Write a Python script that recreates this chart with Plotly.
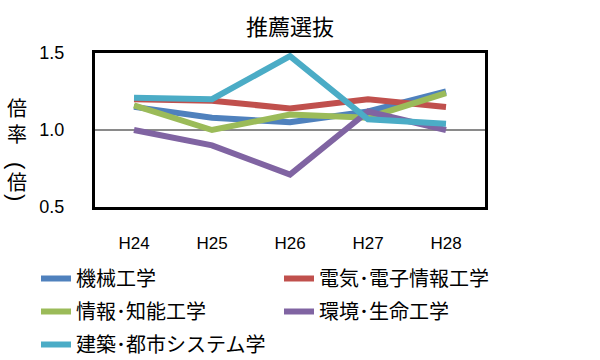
import plotly.graph_objects as go

years = ["H24", "H25", "H26", "H27", "H28"]
kikai = [1.15, 1.08, 1.05, 1.12, 1.25]
denki = [1.20, 1.19, 1.14, 1.20, 1.15]
joho = [1.16, 1.00, 1.10, 1.08, 1.24]
kankyo = [1.00, 0.90, 0.71, 1.12, 1.00]
kenchiku = [1.21, 1.20, 1.48, 1.07, 1.04]

series = [
    ("機械工学", kikai, "#4F81BD", "legend"),
    ("電気･電子情報工学", denki, "#C0504D", "legend2"),
    ("情報･知能工学", joho, "#9BBB59", "legend"),
    ("環境･生命工学", kankyo, "#8064A2", "legend2"),
    ("建築･都市システム学", kenchiku, "#4BACC6", "legend"),
]

JP = "Noto Sans CJK JP"
L, R, T, B = 95, 485, 53, 207
W, H = 600, 360

fig = go.Figure()
for i, (name, vals, color, lg) in enumerate(series):
    fig.add_trace(go.Scatter(x=years, y=vals, name=name, mode="lines",
                             line=dict(color=color, width=6), legend=lg,
                             legendgroup="g%d" % i))

def px_x(x):
    return (x - L) / (R - L)

def px_y(y):
    return (B - y) / (B - T)

leg_common = dict(orientation="v", yanchor="top", xanchor="left", tracegroupgap=4,
                  font=dict(family=JP, size=20, color="black"),
                  bgcolor="rgba(0,0,0,0)", borderwidth=0)
fig.update_layout(
    width=W, height=H,
    margin=dict(l=L, r=W - R, t=T, b=H - B, autoexpand=False),
    paper_bgcolor="white", plot_bgcolor="white",
    title=dict(text="推薦選抜", x=290 / W, xanchor="center",
               y=1 - 27 / H, yanchor="middle",
               font=dict(family=JP, size=22, color="black")),
    showlegend=True,
    legend=dict(x=px_x(36), y=px_y(259), **leg_common),
    legend2=dict(x=px_x(279), y=px_y(259), **leg_common),
)
fig.update_xaxes(type="category", range=[-0.5, 4.5], showline=True, mirror=True,
                 linecolor="black", linewidth=3, showgrid=False, ticks="",
                 ticklabelstandoff=19,
                 tickfont=dict(family="Liberation Sans", size=17, color="black"))
fig.update_yaxes(range=[0.5, 1.5], tickvals=[0.5, 1.0, 1.5], tickformat=".1f",
                 showline=True, mirror=True, linecolor="black", linewidth=3,
                 showgrid=True, gridcolor="#8a8a8a", gridwidth=2, zeroline=False,
                 ticks="", ticklabelstandoff=24,
                 tickfont=dict(family="Liberation Sans", size=18, color="black"))

# vertical axis title: upright characters, parentheses rotated as in vertical text
ytitle = [("倍<br>率", 120, 0, JP, 20), ("(", 166, 90, "Liberation Sans", 22),
          ("倍", 181, 0, JP, 20), (")", 197, 90, "Liberation Sans", 22)]
for ch, yy, ang, fam, sz in ytitle:
    fig.add_annotation(text=ch, xref="paper", yref="paper", x=px_x(17), y=px_y(yy),
                       xanchor="center", yanchor="middle", textangle=ang,
                       showarrow=False, font=dict(family=fam, size=sz, color="black"))

fig.write_html("out.html", config={"displayModeBar": False},
               post_script="document.body.style.margin='0px';")
